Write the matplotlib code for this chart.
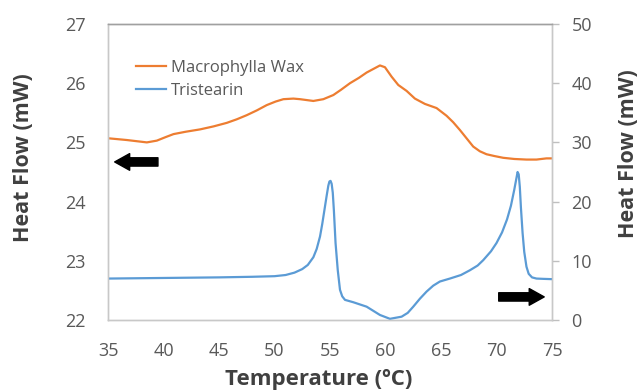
import matplotlib
matplotlib.use("Agg")
from matplotlib import pyplot as plt

# Macrophylla wax curve (left axis, mW)
wax_temp = [35.0, 36.7, 37.6, 38.5, 39.4, 40.2, 40.9, 42.0, 43.3, 44.5, 45.7, 46.6,
            47.5, 48.4, 49.3, 50.1, 50.8, 51.7, 52.3, 53.5, 54.4, 55.3, 56.0, 56.8,
            57.6, 58.3, 59.0, 59.5, 59.95, 60.55, 61.15, 61.9, 62.65, 63.55, 64.6,
            65.5, 66.1, 66.7, 67.3, 67.9, 68.5, 69.1, 69.8, 70.6, 71.6, 72.7, 73.6,
            74.5, 75.0]
wax_flow = [25.07, 25.04, 25.02, 25.00, 25.03, 25.09, 25.14, 25.18, 25.22, 25.27, 25.33, 25.39,
            25.46, 25.54, 25.63, 25.69, 25.73, 25.74, 25.73, 25.70, 25.73, 25.80, 25.89, 26.00,
            26.09, 26.18, 26.25, 26.30, 26.27, 26.11, 25.97, 25.87, 25.74, 25.65, 25.58,
            25.45, 25.34, 25.21, 25.07, 24.93, 24.85, 24.80, 24.77, 24.74, 24.72, 24.71, 24.71,
            24.73, 24.73]

# Tristearin curve (right axis, mW)
tri_temp = [35.0, 40.0, 45.0, 48.0, 50.0, 51.0, 51.8, 52.5, 53.0, 53.5, 53.8, 54.1, 54.3,
            54.5, 54.7, 54.85, 54.95, 55.05, 55.15, 55.25, 55.35, 55.5, 55.7, 55.9, 56.1,
            56.35, 57.1, 58.3, 59.5, 60.4, 61.45, 62.0, 62.5, 63.1, 63.7, 64.3, 64.9,
            65.8, 66.8, 67.6, 68.3, 68.8, 69.5, 70.0, 70.5, 70.95, 71.3, 71.6, 71.8,
            71.9, 72.0, 72.1, 72.2, 72.35, 72.5, 72.7, 72.9, 73.2, 73.6, 74.2, 75.0]
tri_flow = [7.0, 7.1, 7.2, 7.3, 7.4, 7.6, 8.0, 8.6, 9.3, 10.6, 12.0, 14.1, 16.2,
            18.6, 21.0, 22.7, 23.4, 23.5, 23.0, 21.5, 18.5, 13.0, 8.4, 5.1, 4.0,
            3.4, 3.0, 2.25, 0.85, 0.2, 0.56, 1.2, 2.25, 3.6, 4.8, 5.8, 6.5,
            7.0, 7.6, 8.4, 9.2, 10.1, 11.6, 13.0, 14.8, 17.0, 19.3, 22.0, 24.0,
            25.0, 24.6, 22.5, 19.0, 14.7, 11.5, 9.0, 7.8, 7.2, 7.0, 6.95, 6.9]

x_ticks = [35, 40, 45, 50, 55, 60, 65, 70, 75]
left_ticks = [22, 23, 24, 25, 26, 27]
right_ticks = [0, 10, 20, 30, 40, 50]

plt.rcParams['font.family'] = ['Open Sans', 'DejaVu Sans']
tick_col = '#595959'
label_col = '#404040'

fig = plt.figure(figsize=(6.4, 3.92), dpi=100)
ax = fig.add_axes([108 / 640, 72 / 392, 444 / 640, 296 / 392])
ax2 = ax.twinx()

l1, = ax.plot(wax_temp, wax_flow, color='#ED7D31', lw=1.6, label='Macrophylla Wax',
              solid_joinstyle='round')
l2, = ax2.plot(tri_temp, tri_flow, color='#5B9BD5', lw=1.6, label='Tristearin',
               solid_joinstyle='round')

ax.set_xlim(35, 75)
ax.set_ylim(22, 27)
ax2.set_ylim(0, 50)
ax.set_xticks(x_ticks)
ax.set_yticks(left_ticks)
ax2.set_yticks(right_ticks)

ax.tick_params(axis='x', length=0, pad=16, labelsize=13, labelcolor=tick_col)
ax.tick_params(axis='y', length=0, pad=16, labelsize=13, labelcolor=tick_col)
ax2.tick_params(axis='y', length=5, width=1, color='#bfbfbf', pad=9,
                labelsize=13, labelcolor=tick_col)

for a in (ax, ax2):
    for s in a.spines.values():
        s.set_color('#c8c8c8')
        s.set_linewidth(1)
    a.spines['top'].set_color('#a0a0a0')

fig.text(24 / 640, 1 - 158 / 392, 'Heat Flow (mW)', rotation=90, ha='center', va='center',
         fontsize=15.5, fontweight='bold', color=label_col)
fig.text(629 / 640, 1 - 154 / 392, 'Heat Flow (mW)', rotation=90, ha='center', va='center',
         fontsize=15.5, fontweight='bold', color=label_col)
fig.text(319 / 640, 1 - 380 / 392, 'Temperature (ºC)', ha='center', va='center',
         fontsize=16, fontweight='bold', color=label_col)

leg = ax.legend(handles=[l1, l2], loc='upper left', bbox_to_anchor=(136 / 640, 1 - 60 / 392),
                bbox_transform=fig.transFigure, frameon=False, fontsize=12,
                handlelength=1.8, handletextpad=0.3, labelspacing=0.4,
                borderpad=0, borderaxespad=0)
for t in leg.get_texts():
    t.set_color(tick_col)

arrow = dict(arrowstyle='simple,head_length=0.9,head_width=1.0,tail_width=0.5',
             color='black', shrinkA=0, shrinkB=0, mutation_scale=12)
ax.annotate('', xy=(35.6, 24.67), xytext=(39.5, 24.67), arrowprops=arrow)
ax.annotate('', xy=(74.3, 22.39), xytext=(70.2, 22.39), arrowprops=arrow)

fig.savefig('out.png', dpi=100)
